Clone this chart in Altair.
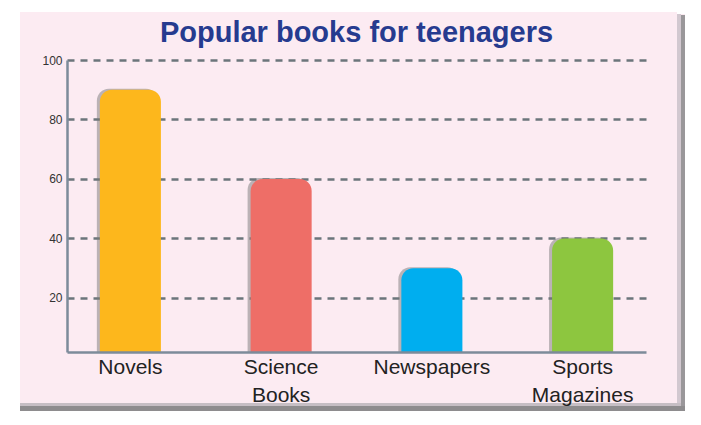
import altair as alt
import pandas as pd

categories = ["Novels", "Science Books", "Newspapers", "Sports Magazines"]
values = [90, 60, 30, 40]
colors = ["#FDB71C", "#EE6E67", "#00AEEF", "#8DC63F"]
y_ticks = [20, 40, 60, 80, 100]

df = pd.DataFrame({"category": categories, "value": values})
one = pd.DataFrame({"k": [0]})

W, H = 579, 292
FONT = "Liberation Sans"

x_enc = alt.X("category:N", sort=categories,
              scale=alt.Scale(paddingInner=0.595, paddingOuter=0.218),
              axis=alt.Axis(title=None, labelAngle=0, labelExpr="split(datum.label, ' ')",
                            labelFontSize=21, labelColor="#222222", labelFont=FONT,
                            labelLineHeight=28, labelPadding=4, labelBaseline="top",
                            ticks=False, domainColor="#7d8b9a", domainWidth=2.5,
                            grid=False, zindex=1))
y_scale = alt.Scale(domain=[1.8, 100], clamp=True, nice=False, zero=False)
y_enc = alt.Y("value:Q", scale=y_scale,
              axis=alt.Axis(title=None, values=y_ticks, labelFontSize=12, labelColor="#333333",
                            labelFont=FONT, ticks=False, labelPadding=5,
                            domainColor="#7d8b9a", domainWidth=2.5,
                            grid=True, gridColor="#6b757b", gridWidth=2.5, gridDash=[7, 6]))


def deco(x1, x2, y1, y2, color, opacity=1.0):
    return alt.Chart(one).mark_rect(color=color, opacity=opacity).encode(
        x=alt.value(x1 - 67), x2=alt.value(x2 - 67),
        y=alt.value(y1 - 60), y2=alt.value(y2 - 60))

shadow = alt.Chart(df).mark_bar(
    color="#7a7a7a", opacity=0.5, xOffset=-3, yOffset=-1,
    cornerRadiusTopLeft=12, cornerRadiusTopRight=12
).encode(x=x_enc, y=y_enc, y2=alt.datum(0))

bars = alt.Chart(df).mark_bar(
    cornerRadiusTopLeft=12, cornerRadiusTopRight=12
).encode(
    x=x_enc, y=y_enc, y2=alt.datum(0),
    color=alt.Color("category:N", sort=categories,
                    scale=alt.Scale(domain=categories, range=colors), legend=None)
)

layers = [
    deco(677, 681, 14, 406, "#d2c8d0"),
    deco(681, 685, 15, 411, "#9a979a"),
    deco(20, 681, 403, 406, "#c6bec4"),
    deco(20, 685, 406, 411, "#8e8c8e"),
    deco(0, 20, 0, 425, "#ffffff"),
    deco(0, 701, 0, 12, "#ffffff"),
    deco(685, 701, 0, 425, "#ffffff"),
    deco(0, 701, 411, 425, "#ffffff"),
    deco(677, 685, 12, 14, "#ffffff"),
    shadow,
    bars,
]

chart = alt.layer(*layers).properties(
    width=W, height=H,
    title=alt.TitleParams("Popular books for teenagers", fontSize=29, font=FONT,
                          fontWeight="bold", color="#263b8f", anchor="middle",
                          baseline="alphabetic", offset=-71),
    background="#fcebf2",
    autosize=alt.AutoSizeParams(type="none"),
    padding={"left": 67, "top": 60, "right": 55, "bottom": 73},
).configure_view(stroke=None)

chart.save("out.html", embed_options={"renderer": "svg", "actions": False})
